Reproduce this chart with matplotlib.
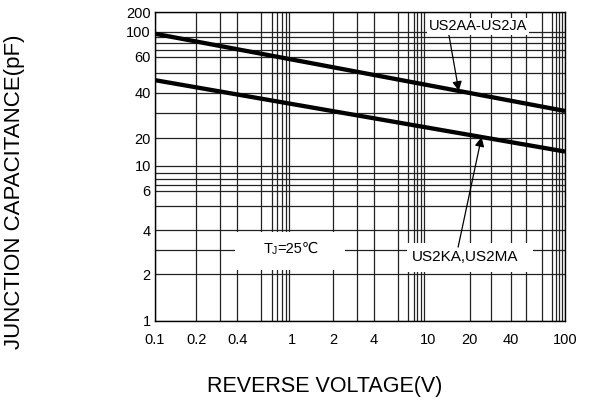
import numpy as np
import matplotlib
matplotlib.use("Agg")
import matplotlib.pyplot as plt
from matplotlib.patches import Rectangle

plt.rcParams['font.family'] = ['Liberation Sans', 'DejaVu Sans']

# ---------------- DATA ----------------
voltage = [0.1, 100]
cap_aa_ja = [96, 31]      # US2AA-US2JA
cap_ka_ma = [46, 14.3]    # US2KA,US2MA

x_ticks = [0.1, 0.2, 0.4, 1, 2, 4, 10, 20, 40, 100]
x_tick_labels = ["0.1", "0.2", "0.4", "1", "2", "4", "10", "20", "40", "100"]
y_ticks = [1, 2, 4, 6, 10, 20, 40, 60, 100, 200]
y_tick_labels = ["1", "2", "4", "6", "10", "20", "40", "60", "100", "200"]

# grid of the printed datasheet paper (not a clean log grid)
x_grid = [0.1, 0.2, 0.3, 0.4, 0.6, 0.72, 0.785, 0.845, 0.91, 0.955,
          2, 3, 4, 6, 7.13, 7.85, 8.29, 8.79, 9.29,
          20, 28.6, 40, 52, 68, 80.5, 85.3, 90.2, 94.5, 100]
y_grid = [1, 2, 3, 4, 5, 6, 7, 8, 9, 10, 20, 30, 40, 50, 60, 70, 80, 90, 100, 200]

# ---------------- Y SCALE OF THE PAPER ----------------
# height of each grid value above the bottom of the plot (pixels of the sheet)
_y_h = 320.7 - np.array([320.7, 274.3, 250, 230, 206, 190.7, 185, 179, 172.7, 165.7,
                         138.3, 113.3, 92.7, 72.7, 56.7, 50, 43, 37, 31.7, 12.3])
_y_log = np.log10(y_grid)


def fwd(v):
    v = np.clip(np.asarray(v, dtype=float), 1e-3, None)
    return np.interp(np.log10(v), _y_log, _y_h)


def inv(h):
    return 10 ** np.interp(np.asarray(h, dtype=float), _y_h, _y_log)


def point_on(line_y, xv):
    # straight line in screen space between the two end points
    t = (np.log10(xv) - np.log10(voltage[0])) / (np.log10(voltage[1]) - np.log10(voltage[0]))
    h = fwd(line_y[0]) + t * (fwd(line_y[1]) - fwd(line_y[0]))
    return float(inv(h))


fig = plt.figure(figsize=(5.89, 4.03), dpi=100)
ax = fig.add_axes([0.2632, 0.2042, 0.6961, 0.7653])
ax.set_xscale('log')
ax.set_yscale('function', functions=(fwd, inv))
ax.set_xlim(0.1, 100)
ax.set_ylim(1, 200)

for xv in x_grid:
    ax.axvline(xv, color='#222222', lw=0.9, zorder=1)
for yv in y_grid:
    ax.axhline(yv, color='#222222', lw=0.9, zorder=1)

for s in ax.spines.values():
    s.set_linewidth(1.0)
    s.set_zorder(1)

ax.set_xticks(x_ticks)
ax.set_xticklabels(x_tick_labels)
ax.set_yticks(y_ticks)
ax.set_yticklabels(y_tick_labels)
ax.xaxis.set_minor_locator(matplotlib.ticker.NullLocator())
ax.yaxis.set_minor_locator(matplotlib.ticker.NullLocator())
ax.tick_params(axis='x', length=0, pad=9, labelsize=10.5)
ax.tick_params(axis='y', length=0, pad=3, labelsize=10.5)

# the two curves
ax.plot(voltage, cap_aa_ja, color='black', lw=3.1, solid_capstyle='butt', zorder=4)
ax.plot(voltage, cap_ka_ma, color='black', lw=3.1, solid_capstyle='butt', zorder=4)

# white label boxes on the grid
ax.add_patch(Rectangle((0.195, 0.164), 0.268, 0.124, transform=ax.transAxes,
                       facecolor='white', edgecolor='none', zorder=3))
ax.add_patch(Rectangle((0.615, 0.158), 0.307, 0.094, transform=ax.transAxes,
                       facecolor='white', edgecolor='none', zorder=3))

ax.text(0.286, 0.232, "T", transform=ax.transAxes, ha='right',
        va='center', fontsize=10.5, zorder=5)
ax.text(0.286, 0.227, "J", transform=ax.transAxes, ha='left',
        va='center', fontsize=7.5, zorder=5)
ax.text(0.299, 0.232, "=25℃", transform=ax.transAxes, ha='left', va='center',
        fontsize=10.5, zorder=5)

arrow = dict(arrowstyle='-|>', color='black', lw=0.9, mutation_scale=14,
             shrinkA=0, shrinkB=0)

x_a = 16.7
ax.annotate("US2AA-US2JA", xy=(x_a, point_on(cap_aa_ja, x_a)),
            xytext=(0.788, 0.955), textcoords='axes fraction',
            ha='center', va='center', fontsize=10.5,
            bbox=dict(boxstyle='square,pad=0.1', fc='white', ec='none'),
            arrowprops=dict(arrow, relpos=(0.2, 0.0)), zorder=5)

x_b = 24.5
ax.annotate("US2KA,US2MA", xy=(x_b, point_on(cap_ka_ma, x_b)),
            xytext=(0.756, 0.207), textcoords='axes fraction',
            ha='center', va='center', fontsize=11,
            arrowprops=dict(arrow, relpos=(0.43, 1.0)), zorder=5)

fig.text(0.552, 0.040, "REVERSE VOLTAGE(V)", ha='center', va='center', fontsize=15.5)
fig.text(0.024, 0.525, "JUNCTION CAPACITANCE(pF)", ha='center', va='center',
         rotation=90, fontsize=16)

fig.savefig("out.png", dpi=100)
